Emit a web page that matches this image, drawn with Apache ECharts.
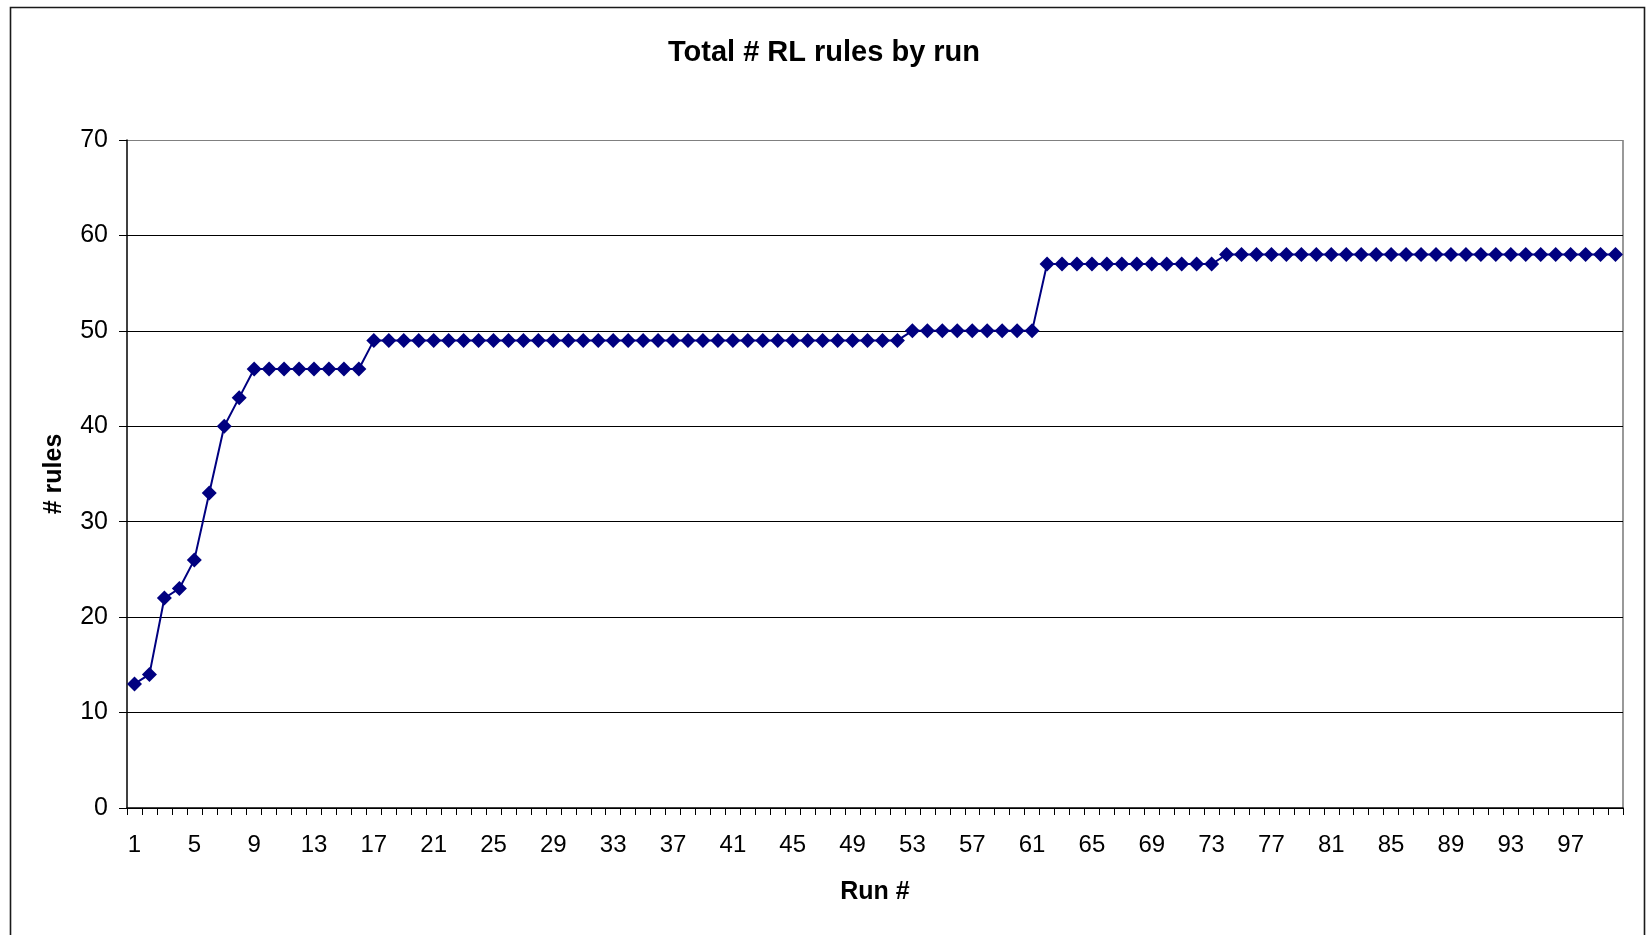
<!DOCTYPE html>
<html>
<head>
<meta charset="utf-8">
<title>Total # RL rules by run</title>
<script src="https://cdn.jsdelivr.net/npm/echarts@6/dist/echarts.min.js"></script>
<style>
  html, body { margin: 0; padding: 0; background: #ffffff; }
  #chart { width: 1648px; height: 935px; }
</style>
</head>
<body>
<div id="chart"></div>
<script>
// Run numbers 1..100 (category labels)
const runs = [
  '1','2','3','4','5','6','7','8','9','10',
  '11','12','13','14','15','16','17','18','19','20',
  '21','22','23','24','25','26','27','28','29','30',
  '31','32','33','34','35','36','37','38','39','40',
  '41','42','43','44','45','46','47','48','49','50',
  '51','52','53','54','55','56','57','58','59','60',
  '61','62','63','64','65','66','67','68','69','70',
  '71','72','73','74','75','76','77','78','79','80',
  '81','82','83','84','85','86','87','88','89','90',
  '91','92','93','94','95','96','97','98','99','100'
];

// Total number of RL rules after each run
const totalRules = [
  13, 14, 22, 23, 26, 33, 40, 43, 46, 46,
  46, 46, 46, 46, 46, 46, 49, 49, 49, 49,
  49, 49, 49, 49, 49, 49, 49, 49, 49, 49,
  49, 49, 49, 49, 49, 49, 49, 49, 49, 49,
  49, 49, 49, 49, 49, 49, 49, 49, 49, 49,
  49, 49, 50, 50, 50, 50, 50, 50, 50, 50,
  50, 57, 57, 57, 57, 57, 57, 57, 57, 57,
  57, 57, 57, 58, 58, 58, 58, 58, 58, 58,
  58, 58, 58, 58, 58, 58, 58, 58, 58, 58,
  58, 58, 58, 58, 58, 58, 58, 58, 58, 58
];

// Value axis range
const yMin = 0;
const yMax = 70;
const yStep = 10;

const FONT = '"Liberation Sans", Arial, sans-serif';

const chart = echarts.init(document.getElementById('chart'), null, { renderer: 'canvas' });

const GRID = { left: 127, top: 140, right: 25, bottom: 127 };

chart.setOption({
  backgroundColor: '#ffffff',
  animation: false,
  title: {
    text: 'Total # RL rules by run',
    left: 'center',
    top: 33,
    textStyle: { fontFamily: FONT, fontSize: 29, fontWeight: 'bold', color: '#000000' }
  },
  grid: GRID,
  xAxis: {
    type: 'category',
    data: runs,
    boundaryGap: true,
    name: 'Run #',
    nameLocation: 'middle',
    nameGap: 72,
    nameTextStyle: { fontFamily: FONT, fontSize: 25, fontWeight: 'bold', color: '#000000' },
    axisLine: { lineStyle: { color: '#000000', width: 1.5 } },
    axisTick: { show: true, interval: 0, length: 7, inside: false, lineStyle: { color: '#000000', width: 1 } },
    axisLabel: { interval: 3, margin: 25, fontFamily: FONT, fontSize: 24, color: '#000000' },
    splitLine: { show: false }
  },
  yAxis: {
    type: 'value',
    min: yMin,
    max: yMax,
    interval: yStep,
    name: '# rules',
    nameLocation: 'middle',
    nameGap: 60,
    nameRotate: 90,
    nameTextStyle: { fontFamily: FONT, fontSize: 25, fontWeight: 'bold', color: '#000000' },
    axisLine: { show: true, lineStyle: { color: '#000000', width: 1.5 } },
    axisTick: { show: true, length: 8, lineStyle: { color: '#000000', width: 1 } },
    axisLabel: { margin: 19, fontFamily: FONT, fontSize: 25, color: '#000000' },
    splitLine: {
      show: true,
      lineStyle: {
        color: ['#000000', '#000000', '#000000', '#000000', '#000000', '#000000', '#000000', '#808080'],
        width: 1.2
      }
    }
  },
  graphic: [
    // outer chart frame
    {
      type: 'rect',
      left: 8, top: 5,
      shape: { width: 1634, height: 940 },
      style: { fill: 'none', stroke: '#1a1a1a', lineWidth: 1.6 },
      silent: true
    },
    // right edge of plot area
    {
      type: 'line',
      shape: { x1: 1623, y1: 140, x2: 1623, y2: 808 },
      style: { stroke: '#808080', lineWidth: 1.6 },
      silent: true
    }
  ],
  series: [{
    type: 'line',
    data: totalRules,
    symbol: 'diamond',
    symbolSize: [15, 15],
    showAllSymbol: true,
    lineStyle: { color: '#000080', width: 2 },
    itemStyle: { color: '#000080' },
    z: 5
  }]
});
</script>
</body>
</html>
